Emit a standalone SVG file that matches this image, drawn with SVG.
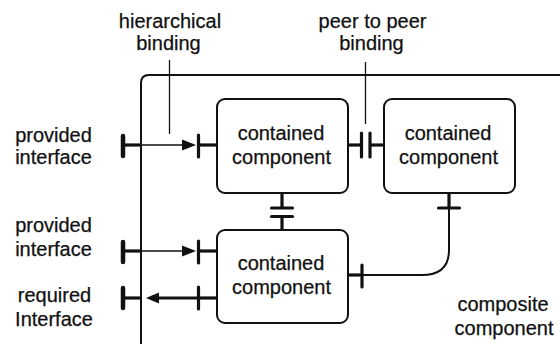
<svg xmlns="http://www.w3.org/2000/svg" width="560" height="344" viewBox="0 0 560 344">
<defs>
<style>
text{font-family:"Liberation Sans",Arial,Helvetica,sans-serif;font-size:20px;fill:#111;text-anchor:middle;stroke:#111;stroke-width:0.25}
.box{fill:#fff;stroke:#111;stroke-width:2}
.outer{fill:none;stroke:#111;stroke-width:2}
.thin{fill:none;stroke:#111;stroke-width:1.3}
.mid{fill:none;stroke:#111;stroke-width:2}
.stub{fill:none;stroke:#111;stroke-width:3.2}
.bar{fill:none;stroke:#111;stroke-width:3.2;stroke-linecap:round}
.bigbar{fill:none;stroke:#111;stroke-width:4.5;stroke-linecap:round}
.head{fill:#111;stroke:none}
</style>
</defs>
<rect width="560" height="344" fill="#fff"/>
<g id="composite">
<path class="outer" d="M141,346 V83 Q141,75 149,75 H562"/>
<text x="503" y="311">composite</text>
<text x="504" y="335">component</text>
</g>
<g id="box1">
<rect class="box" x="217" y="99" width="131" height="94" rx="8"/>
<text x="281" y="140">contained</text>
<text x="281.5" y="163.5">component</text>
</g>
<g id="box2">
<rect class="box" x="384" y="99" width="131" height="94" rx="8"/>
<text x="448" y="140">contained</text>
<text x="448.5" y="163.5">component</text>
</g>
<g id="box3">
<rect class="box" x="217" y="230" width="131" height="93" rx="8"/>
<text x="281" y="270">contained</text>
<text x="281.5" y="294">component</text>
</g>
<g id="labels">
<text x="170" y="28">hierarchical</text>
<text x="168.5" y="50">binding</text>
<text x="372.5" y="27.5">peer to peer</text>
<text x="371.5" y="50">binding</text>
<text x="53.5" y="142">provided</text>
<text x="53.5" y="164">interface</text>
<text x="53.5" y="232">provided</text>
<text x="53.5" y="256">interface</text>
<text x="54.5" y="302">required</text>
<text x="54" y="326">Interface</text>
</g>
<g id="connectors">
<line class="thin" x1="169.5" y1="60" x2="169.5" y2="134"/>
<line class="thin" x1="365.5" y1="62" x2="365.5" y2="124"/>
<line class="bigbar" x1="123" y1="136" x2="123" y2="156"/>
<line class="stub" x1="123" y1="145" x2="141" y2="145"/>
<line class="thin" x1="141" y1="145" x2="184" y2="145"/>
<path class="head" d="M196,145 L182,139.5 L182,150.5 Z"/>
<line class="bar" x1="198.5" y1="135" x2="198.5" y2="157"/>
<line class="stub" x1="198.5" y1="145" x2="217" y2="145"/>
<line class="bigbar" x1="123" y1="242" x2="123" y2="262"/>
<line class="stub" x1="123" y1="251" x2="141" y2="251"/>
<line class="thin" x1="141" y1="251" x2="184" y2="251"/>
<path class="head" d="M196,251 L182,245.5 L182,256.5 Z"/>
<line class="bar" x1="198.5" y1="241" x2="198.5" y2="263"/>
<line class="stub" x1="198.5" y1="251" x2="217" y2="251"/>
<line class="bigbar" x1="123" y1="288" x2="123" y2="308"/>
<line class="stub" x1="123" y1="298" x2="141" y2="298"/>
<path class="head" d="M146,298 L159,292.5 L159,303.5 Z"/>
<line class="stub" x1="157" y1="298" x2="198.5" y2="298"/>
<line class="bar" x1="198.5" y1="287" x2="198.5" y2="309"/>
<line class="stub" x1="198.5" y1="298" x2="217" y2="298"/>
<line class="stub" x1="348" y1="145" x2="361.5" y2="145"/>
<line class="bar" x1="361.5" y1="133" x2="361.5" y2="157"/>
<line class="bar" x1="370" y1="133" x2="370" y2="157"/>
<line class="stub" x1="370" y1="145" x2="384" y2="145"/>
<line class="stub" x1="282" y1="193" x2="282" y2="208"/>
<line class="bar" x1="271.5" y1="208" x2="292.5" y2="208"/>
<line class="bar" x1="271.5" y1="216.5" x2="292.5" y2="216.5"/>
<line class="stub" x1="282" y1="216.5" x2="282" y2="230"/>
<line class="stub" x1="449" y1="193" x2="449" y2="208"/>
<line class="bar" x1="438.5" y1="208" x2="459.5" y2="208"/>
<path class="mid" d="M449,208 V250 Q449,275 422,275 H362"/>
<line class="bar" x1="362" y1="265" x2="362" y2="287"/>
<line class="stub" x1="348" y1="275" x2="362" y2="275"/>
</g>
</svg>
